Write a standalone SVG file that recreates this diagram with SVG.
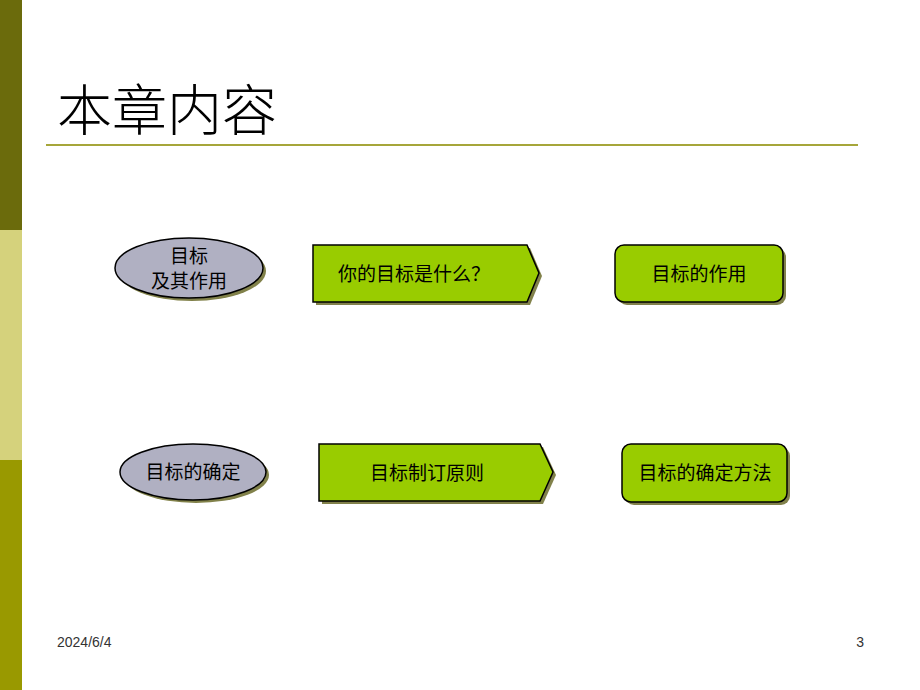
<svg xmlns="http://www.w3.org/2000/svg" width="920" height="690" viewBox="0 0 920 690">
<style>
.t{font-family:"Noto Sans CJK SC","Liberation Sans",sans-serif;font-size:19px;font-weight:400;fill:#000;text-anchor:middle}
.g{fill:#99cc00;stroke:#000;stroke-width:1.5}
.e{fill:#b0b0c2;stroke:#000;stroke-width:1.5}
.s{fill:#6b6b2a;opacity:0.85}
.f{font-family:"Liberation Sans","Noto Sans",sans-serif;font-size:14px;fill:#333}
</style>
<rect x="0" y="0" width="920" height="690" fill="#fff"/>
<rect x="0" y="0" width="22" height="230" fill="#6b6b0c"/>
<rect x="0" y="230" width="22" height="230" fill="#d5d27c"/>
<rect x="0" y="460" width="22" height="230" fill="#999900"/>
<g id="title">
<text x="57" y="130" font-family="'Noto Sans CJK SC',sans-serif" font-weight="300" font-size="55" fill="#000">本章内容</text>
<rect x="46" y="144" width="812" height="2" fill="#a6a63a"/>
</g>
<g id="connectors"></g>
<g id="n1">
<ellipse class="s" cx="192" cy="271" rx="74" ry="30"/>
<ellipse class="e" cx="189" cy="268" rx="74" ry="30"/>
<text class="t" x="189" y="263">目标</text>
<text class="t" x="189" y="288">及其作用</text>
</g>
<g id="n2">
<polygon class="s" points="316,248 530,248 542,276 530,305 316,305"/>
<polygon class="g" points="313,245 527,245 539,273 527,302 313,302"/>
<text class="t" x="414" y="281">你的目标是什么？</text>
</g>
<g id="n3">
<rect class="s" x="618" y="248" width="168" height="57" rx="9"/>
<rect class="g" x="615" y="245" width="168" height="57" rx="9"/>
<text class="t" x="699" y="281">目标的作用</text>
</g>
<g id="n4">
<ellipse class="s" cx="196" cy="475" rx="73" ry="28"/>
<ellipse class="e" cx="193" cy="472" rx="73" ry="28"/>
<text class="t" x="193" y="479">目标的确定</text>
</g>
<g id="n5">
<polygon class="s" points="322,447 543,447 556,475 543,504 322,504"/>
<polygon class="g" points="319,444 540,444 553,472 540,501 319,501"/>
<text class="t" x="427" y="480">目标制订原则</text>
</g>
<g id="n6">
<rect class="s" x="625" y="447" width="165" height="58" rx="9"/>
<rect class="g" x="622" y="444" width="165" height="58" rx="9"/>
<text class="t" x="705" y="480">目标的确定方法</text>
</g>
<text class="f" x="57" y="647">2024/6/4</text>
<text class="f" x="864" y="647" text-anchor="end">3</text>
</svg>
